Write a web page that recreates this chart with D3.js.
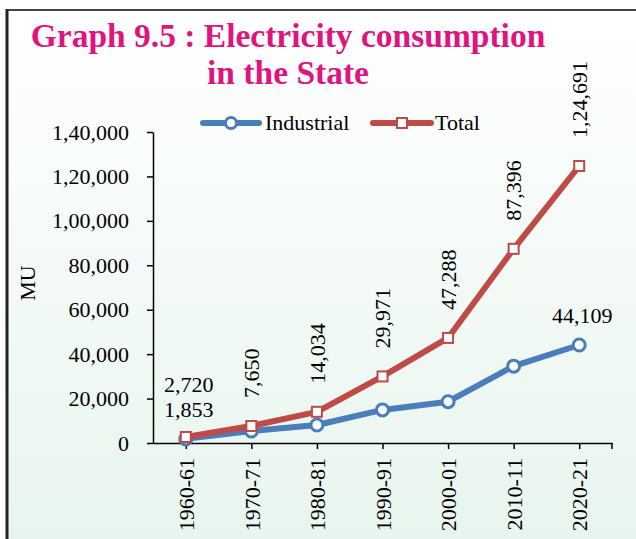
<!DOCTYPE html>
<html>
<head>
<meta charset="utf-8" />
<title>Electricity consumption</title>
<script src="https://cdn.jsdelivr.net/npm/d3@7"></script>
<style>
  body { margin: 0; background: #fff; }
  text { font-family: "Liberation Serif", "Times New Roman", serif; fill: #000; }
</style>
</head>
<body>
<svg width="636" height="539"></svg>
<script>
var years = ["1960-61", "1970-71", "1980-81", "1990-91", "2000-01", "2010-11", "2020-21"];
var industrial = [1853, 5400, 8100, 14900, 18600, 34600, 44109];
var total = [2720, 7650, 14034, 29971, 47288, 87396, 124691];
var yTicks = [0, 20000, 40000, 60000, 80000, 100000, 120000, 140000];

var blue = "#4a7ebb", red = "#be4b48";
var fs = "22px";

var svg = d3.select("svg");

// indian style grouping 1,24,691
function fmt(v) {
  var s = String(Math.round(v));
  if (s.length <= 3) return s;
  var last = s.slice(-3), rest = s.slice(0, -3);
  rest = rest.replace(/\B(?=(\d{2})+(?!\d))/g, ",");
  return rest + "," + last;
}

// background + frame
var defs = svg.append("defs");
var grad = defs.append("linearGradient").attr("id", "bg")
  .attr("x1", 0).attr("y1", 0).attr("x2", 0).attr("y2", 1);
grad.append("stop").attr("offset", "0%").attr("stop-color", "#ffffff");
grad.append("stop").attr("offset", "100%").attr("stop-color", "#e8f5ee");

svg.append("rect").attr("x", 7).attr("y", 10).attr("width", 629).attr("height", 529)
  .attr("fill", "url(#bg)");
svg.append("line").attr("x1", 6).attr("x2", 636).attr("y1", 10).attr("y2", 10)
  .attr("stroke", "#444").attr("stroke-width", 2);
svg.append("line").attr("x1", 7).attr("x2", 7).attr("y1", 9).attr("y2", 539)
  .attr("stroke", "#222").attr("stroke-width", 3);

// title
svg.append("text").attr("x", 288).attr("y", 47).attr("text-anchor", "middle")
  .style("font-size", "33.5px").style("font-weight", "bold").style("fill", "#e0147f")
  .text("Graph 9.5 : Electricity consumption");
svg.append("text").attr("x", 288).attr("y", 84).attr("text-anchor", "middle")
  .style("font-size", "33.5px").style("font-weight", "bold").style("fill", "#e0147f")
  .text("in the State");

// scales
var x = d3.scalePoint().domain(years).range([153, 612]).padding(0.5);
var y = d3.scaleLinear().domain([0, 140000]).range([443, 132]);

// y axis
var gy = svg.append("g").attr("transform", "translate(153,0)")
  .call(d3.axisLeft(y).tickValues(yTicks).tickFormat(fmt).tickSize(6).tickSizeOuter(0));
gy.selectAll("text").style("font-size", fs).attr("x", -24)
  .style("font-family", "Liberation Serif");
gy.selectAll("line, path").attr("stroke", "#000").attr("stroke-width", 1.5);

// x axis
var gx = svg.append("g").attr("transform", "translate(0,443)")
  .call(d3.axisBottom(x).tickSize(6).tickSizeOuter(0));
gx.append("line").attr("x1", x.range()[1]).attr("x2", x.range()[1])
  .attr("y1", 0).attr("y2", 6);
gx.selectAll("line, path").attr("stroke", "#000").attr("stroke-width", 1.5);
gx.selectAll(".tick text")
  .style("font-size", fs).style("font-family", "Liberation Serif")
  .attr("text-anchor", "end")
  .attr("transform", "translate(0,15) rotate(-90)")
  .attr("x", 0).attr("y", 0).attr("dy", "0.35em");

// axis title
svg.append("text").attr("transform", "translate(27,283) rotate(-90)")
  .attr("text-anchor", "middle").attr("dy", "0.35em")
  .style("font-size", fs).text("MU");

// lines
var line = d3.line().x(function(d, i) { return x(years[i]); }).y(function(d) { return y(d); });

svg.append("path").datum(industrial).attr("d", line)
  .attr("fill", "none").attr("stroke", blue).attr("stroke-width", 6)
  .attr("stroke-linejoin", "round").attr("stroke-linecap", "round");
svg.selectAll(".ind").data(industrial).enter().append("circle")
  .attr("cx", function(d, i) { return x(years[i]); })
  .attr("cy", function(d) { return y(d); })
  .attr("r", 6).attr("fill", "#fff").attr("stroke", blue).attr("stroke-width", 3);

svg.append("path").datum(total).attr("d", line)
  .attr("fill", "none").attr("stroke", red).attr("stroke-width", 6)
  .attr("stroke-linejoin", "round").attr("stroke-linecap", "round");
svg.selectAll(".tot").data(total).enter().append("rect")
  .attr("x", function(d, i) { return x(years[i]) - 5; })
  .attr("y", function(d) { return y(d) - 5; })
  .attr("width", 10).attr("height", 10)
  .attr("fill", "#fff").attr("stroke", red).attr("stroke-width", 2);

// data labels
svg.selectAll(".tl").data(total).enter().append("text")
  .style("font-size", fs)
  .attr("transform", function(d, i) {
    if (i === 0) return "translate(" + (x(years[i]) + 3) + "," + (y(d) - 45) + ")";
    return "translate(" + x(years[i]) + "," + (y(d) - 28) + ") rotate(-90)";
  })
  .attr("text-anchor", function(d, i) { return i === 0 ? "middle" : "start"; })
  .attr("dy", function(d, i) { return i === 0 ? 0 : "0.35em"; })
  .text(fmt);

[0, industrial.length - 1].forEach(function(i) {
  svg.append("text").style("font-size", fs).attr("text-anchor", "middle")
    .attr("x", x(years[i]) + 3).attr("y", y(industrial[i]) - 22)
    .text(fmt(industrial[i]));
});

// legend
var leg = svg.append("g");
leg.append("line").attr("x1", 203).attr("x2", 259).attr("y1", 123).attr("y2", 123)
  .attr("stroke", blue).attr("stroke-width", 6).attr("stroke-linecap", "round");
leg.append("circle").attr("cx", 231).attr("cy", 123).attr("r", 5.5)
  .attr("fill", "#fff").attr("stroke", blue).attr("stroke-width", 3);
leg.append("text").attr("x", 265).attr("y", 130).style("font-size", fs).text("Industrial");

leg.append("line").attr("x1", 373).attr("x2", 431).attr("y1", 123).attr("y2", 123)
  .attr("stroke", red).attr("stroke-width", 6).attr("stroke-linecap", "round");
leg.append("rect").attr("x", 397).attr("y", 118).attr("width", 10).attr("height", 10)
  .attr("fill", "#fff").attr("stroke", red).attr("stroke-width", 2);
leg.append("text").attr("x", 435).attr("y", 130).style("font-size", fs).text("Total");
</script>
</body>
</html>
